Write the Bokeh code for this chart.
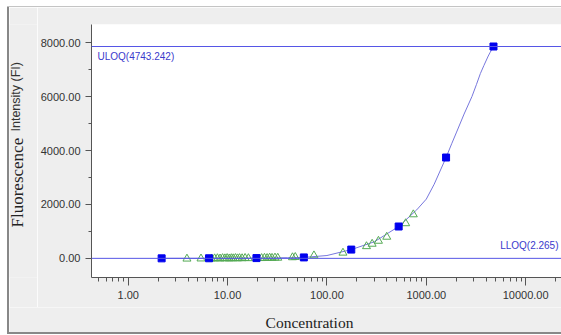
import math
from bokeh.plotting import figure
from bokeh.layouts import row, column
from bokeh.models import (Range1d, Span, Label, LogTicker, FixedTicker,
                          NumeralTickFormatter, Spacer, Div)
from bokeh.core.properties import value
from bokeh.embed import file_html
from bokeh.resources import INLINE

# Standards (blue squares)
std_conc = [2.169, 6.506, 19.52, 58.56, 175.7, 527.0, 1581.1, 4743.242]
std_resp = [5, 8, 15, 40, 330, 1185, 3740, 7852]

# Samples (green triangles)
smp_conc = [3.9, 5.4, 6.9, 7.4, 7.9, 8.4, 8.9, 9.4, 9.9, 10.4, 10.9, 11.4, 12.0,
            12.6, 13.2, 14.0, 15.0, 16.2, 22.0, 23.5, 25.0, 26.5, 28.0, 30.0,
            32.0, 45.0, 48.0, 74.0, 145.0, 250.0, 285.0, 330.0, 400.0, 620.0, 740.0]
smp_resp = [-10, -5, -8, 0, 5, -5, 8, 0, 10, -4, 6, 2, 12, 0, 8, 4, 14, 6,
            10, 20, 12, 25, 18, 28, 22, 40, 50, 110, 210, 450, 540, 650, 800,
            1300, 1630]

# Fitted curve
crv_conc = [2.169, 6.506, 19.52, 40, 58.56, 100, 175.7, 300, 527.0, 800, 1000,
            1200, 1581.1, 1800, 2000, 2400, 2880, 3200, 3500, 3800, 4200, 4400, 4743.242]
crv_resp = [5, 8, 15, 28, 40, 110, 330, 620, 1185, 1800, 2200,
            2750, 3740, 4250, 4650, 5350, 6000, 6450, 6850, 7150, 7500, 7640, 7852]

uloq_text = "ULOQ(4743.242)"
lloq_text = "LLOQ(2.265)"
ylab_main = "Fluorescence"
ylab_sub = "Intensity (FI)"
xlab = "Concentration"
y_ticks = [0, 2000, 4000, 6000, 8000]

BG = "#eeeeee"
H = 300
lab_font = "Liberation Sans"


def blank(w, h, xr, yr):
    f = figure(width=w, height=h, x_range=xr, y_range=yr,
               output_backend="svg", toolbar_location=None,
               min_border=0, min_border_left=0, min_border_right=0,
               min_border_top=0, min_border_bottom=0)
    f.axis.visible = False
    f.grid.visible = False
    f.outline_line_color = None
    f.background_fill_color = BG
    f.border_fill_color = BG
    return f


# narrow panel holding the two-font y axis title (y = -page pixel)
lp = blank(28, H, Range1d(0, 28), Range1d(-277, -24))
lp.text(x=[7.5], y=[-227], text=[ylab_main], angle=math.pi / 2,
        text_font=value("Liberation Serif"), text_font_size="17px",
        text_color="#222222", text_baseline="middle", text_align="left")
lp.text(x=[6.5], y=[-131], text=[ylab_sub], angle=math.pi / 2,
        text_font=value(lab_font), text_font_size="12.5px",
        text_color="#333333", text_baseline="middle", text_align="left")

p = figure(width=524, height=H, x_axis_type="log",
           x_range=Range1d(0.427, 22940), y_range=Range1d(-704, 8667),
           output_backend="svg", toolbar_location=None,
           min_border_left=51, min_border_top=17, min_border_bottom=30,
           min_border_right=0)
p.background_fill_color = "white"
p.border_fill_color = BG
p.outline_line_color = None
p.grid.visible = False

for ax in (p.xaxis[0], p.yaxis[0]):
    ax.axis_line_color = "#555555"
    ax.major_tick_line_color = "#555555"
    ax.minor_tick_line_color = "#555555"
    ax.major_label_text_font = lab_font
    ax.major_label_text_font_size = "11px"
    ax.major_label_text_color = "#333333"
    ax.major_tick_in = 0
    ax.minor_tick_in = 0

p.xaxis.ticker = LogTicker(num_minor_ticks=10)
p.xaxis.formatter = NumeralTickFormatter(format="0.00")
p.xaxis.major_tick_out = 8
p.xaxis.minor_tick_out = 4

p.yaxis.ticker = FixedTicker(ticks=y_ticks, minor_ticks=[-1000, 1000, 3000, 5000, 7000])
p.yaxis.formatter = NumeralTickFormatter(format="0.00")
p.yaxis.major_tick_out = 6
p.yaxis.minor_tick_out = 3

line_col = "#5656e6"
p.add_layout(Span(location=std_resp[-1], dimension="width", line_color=line_col, line_width=1))
p.add_layout(Span(location=std_resp[0], dimension="width", line_color=line_col, line_width=1))

# screen units here are relative to the plot frame
p.add_layout(Label(x=6, y=216, x_units="screen", y_units="screen",
                   text=uloq_text, text_font=lab_font, text_font_size="10px",
                   text_color="#3a3acc"))
p.add_layout(Label(x=467, y=27, x_units="screen", y_units="screen",
                   text=lloq_text, text_font=lab_font, text_font_size="10px",
                   text_color="#3a3acc", text_align="right"))

p.line(crv_conc, crv_resp, line_color="#7777dd", line_width=1)
p.scatter(smp_conc, smp_resp, marker="triangle", size=8, fill_color=None,
          line_color="#55aa55", line_width=1)
p.scatter(std_conc, std_resp, marker="square", size=7, fill_color="#0000ee",
          line_color="#0000ee")

# strip under the plot holding the x axis title (x = page pixel - 9)
bp = blank(552, 25, Range1d(0, 552), Range1d(0, 25))
bp.text(x=[300], y=[10], text=[xlab], text_font=value("Liberation Serif"),
        text_font_size="15.5px", text_color="#222222",
        text_baseline="middle", text_align="center")

edge = Div(width=2, height=H + 25, margin=0, styles={"background-color": "#888888"})
top_line = Div(width=554, height=1, margin=0, styles={"background-color": "#c4c4c4"})
bot_line = Div(width=554, height=2, margin=0, styles={"background-color": "#888888"})

layout = column(
    Spacer(height=6, width=561),
    row(Spacer(width=7, height=1), top_line, spacing=0),
    row(Spacer(width=7, height=H + 25), edge,
        column(row(lp, p, spacing=0), bp, spacing=0), spacing=0),
    row(Spacer(width=7, height=2), bot_line, spacing=0),
    spacing=0)

open("out.html", "w").write(file_html(layout, INLINE))
